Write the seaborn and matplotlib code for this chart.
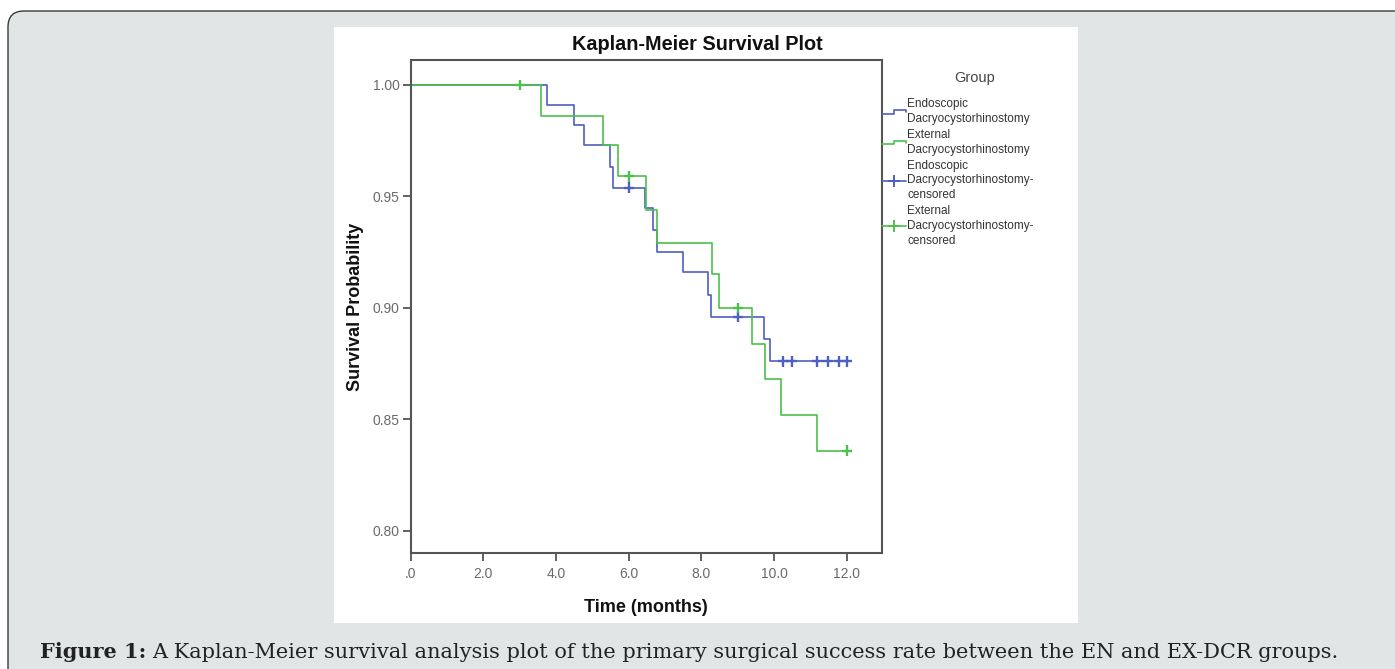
import numpy as np
import pandas as pd
import matplotlib
matplotlib.use("Agg")
import matplotlib.pyplot as plt
import seaborn as sns
from matplotlib.lines import Line2D
from matplotlib.legend_handler import HandlerBase
from matplotlib.patches import FancyBboxPatch, Rectangle
from matplotlib.transforms import IdentityTransform

# ---------------- data ----------------
group_names = ["Endoscopic Dacryocystorhinostomy", "External Dacryocystorhinostomy"]

en_time = [0.0, 3.74, 4.48, 4.77, 5.49, 5.58, 6.45, 6.68, 6.77, 7.49, 8.19, 8.27, 9.71, 9.89, 12.0]
en_surv = [1.000, 0.991, 0.982, 0.973, 0.963, 0.954, 0.945, 0.935, 0.925, 0.916, 0.906, 0.896, 0.886, 0.876, 0.876]
en_cens_time = [6.0, 9.0, 10.25, 10.48, 11.19, 11.49, 11.79, 12.0]
en_cens_surv = [0.954, 0.896, 0.876, 0.876, 0.876, 0.876, 0.876, 0.876]

ex_time = [0.0, 3.58, 5.28, 5.71, 6.47, 6.77, 8.28, 8.49, 9.39, 9.75, 10.19, 11.19, 12.0]
ex_surv = [1.000, 0.986, 0.973, 0.959, 0.944, 0.929, 0.915, 0.900, 0.884, 0.868, 0.852, 0.836, 0.836]
ex_cens_time = [3.0, 6.0, 9.0, 12.0]
ex_cens_surv = [1.000, 0.959, 0.900, 0.836]

x_ticks = [0, 2, 4, 6, 8, 10, 12]
x_tick_labels = [".0", "2.0", "4.0", "6.0", "8.0", "10.0", "12.0"]
y_ticks = [0.80, 0.85, 0.90, 0.95, 1.00]
y_tick_labels = ["0.80", "0.85", "0.90", "0.95", "1.00"]

legend_labels = [
    "Endoscopic\nDacryocystorhinostomy",
    "External\nDacryocystorhinostomy",
    "Endoscopic\nDacryocystorhinostomy-\ncensored",
    "External\nDacryocystorhinostomy-\ncensored",
]

col_en = "#4d5fc0"
col_ex = "#4cc04c"

# ---------------- frames ----------------
lines_df = pd.concat([
    pd.DataFrame({"time": en_time, "surv": en_surv, "group": group_names[0]}),
    pd.DataFrame({"time": ex_time, "surv": ex_surv, "group": group_names[1]}),
], ignore_index=True)
cens_df = pd.concat([
    pd.DataFrame({"time": en_cens_time, "surv": en_cens_surv, "group": group_names[0]}),
    pd.DataFrame({"time": ex_cens_time, "surv": ex_cens_surv, "group": group_names[1]}),
], ignore_index=True)
palette = {group_names[0]: col_en, group_names[1]: col_ex}

sns.set_theme(style="ticks")
plt.rcParams["font.family"] = ["Liberation Sans", "DejaVu Sans"]

W, H = 1395, 669
fig = plt.figure(figsize=(W / 100, H / 100), dpi=100)
fig.patch.set_facecolor("white")

# grey rounded card and white chart panel (pixel coordinates)
card = FancyBboxPatch((8, -40), 1460, H - 11 + 40,
                      boxstyle="round,pad=0,rounding_size=16",
                      transform=IdentityTransform(), facecolor="#e1e5e6",
                      edgecolor="#3a3a3a", linewidth=1.0, zorder=-3)
fig.add_artist(card)
panel = Rectangle((334, H - 623), 1078 - 334, 623 - 27, transform=IdentityTransform(),
                  facecolor="white", edgecolor="none", zorder=-2)
fig.add_artist(panel)

ax = fig.add_axes([410.7 / W, 1 - 553.3 / H, (881.7 - 410.7) / W, (553.3 - 60) / H])
ax.set_facecolor("white")

sns.lineplot(data=lines_df, x="time", y="surv", hue="group", palette=palette,
             estimator=None, sort=False, drawstyle="steps-post", linewidth=1.2,
             legend=False, ax=ax)
sns.scatterplot(data=cens_df, x="time", y="surv", hue="group", palette=palette,
                marker="+", s=55, linewidth=1.7, legend=False, ax=ax, zorder=3)

ax.set_xlim(0, 12.96)
ax.set_ylim(0.7899, 1.0112)
ax.set_xticks(x_ticks)
ax.set_xticklabels(x_tick_labels)
ax.set_yticks(y_ticks)
ax.set_yticklabels(y_tick_labels)
ax.tick_params(axis="both", direction="out", length=6, width=1.3, color="#555555",
               labelsize=10, labelcolor="#6a6a6a")
ax.tick_params(axis="x", pad=4)
ax.tick_params(axis="y", pad=2)
for sp in ax.spines.values():
    sp.set_visible(True)
    sp.set_color("#555555")
    sp.set_linewidth(1.5)

ax.set_xlabel("Time (months)", fontsize=13, fontweight="bold", color="#111111", labelpad=13)
ax.set_ylabel("Survival Probability", fontsize=13, fontweight="bold", color="#111111", labelpad=6)
fig.text(697 / W, 1 - 45 / H, "Kaplan-Meier Survival Plot", ha="center", va="center",
         fontsize=14.3, fontweight="bold", color="#111111")


class StepHandler(HandlerBase):
    def create_artists(self, legend, orig_handle, xdescent, ydescent, width, height,
                       fontsize, trans):
        x0 = -xdescent
        yc = -ydescent + height / 2.0
        a = height * 0.22
        xs = [x0, x0 + 0.5 * width, x0 + 0.5 * width, x0 + width, x0 + width]
        ys = [yc - a, yc - a, yc + a, yc + a, yc - a * 0.3]
        ln = Line2D(xs, ys, color=orig_handle.get_color(), linewidth=1.2)
        ln.set_transform(trans)
        return [ln]


h1 = Line2D([], [], color=col_en)
h2 = Line2D([], [], color=col_ex)
h3 = Line2D([], [], color=col_en, marker="+", markersize=8, markeredgewidth=1.4, linewidth=1.2)
h4 = Line2D([], [], color=col_ex, marker="+", markersize=8, markeredgewidth=1.4, linewidth=1.2)
leg = fig.legend([h1, h2, h3, h4], legend_labels, loc="upper left",
                 bbox_to_anchor=(882 / W, 1 - 98 / H), bbox_transform=fig.transFigure,
                 frameon=False, borderpad=0, borderaxespad=0, fontsize=8.5,
                 handlelength=2.0, handletextpad=0.15, labelspacing=0.35,
                 handler_map={h1: StepHandler(), h2: StepHandler()})
for t in leg.get_texts():
    t.set_color("#333333")
    t.set_linespacing(1.3)
fig.text(975 / W, 1 - 78 / H, "Group", ha="center", va="center", fontsize=10.5, color="#444444")

# caption
renderer = fig.canvas.get_renderer()
cap_y = 1 - 658 / H
t1 = fig.text(40 / W, cap_y, "Figure 1:", fontsize=15, fontweight="bold",
              family=["DejaVu Serif"], color="#222222", va="baseline")
bb = t1.get_window_extent(renderer=renderer)
fig.text((bb.x1 + 6) / W, cap_y,
         "A Kaplan-Meier survival analysis plot of the primary surgical success rate between the EN and EX-DCR groups.",
         fontsize=15, family=["DejaVu Serif"], color="#222222", va="baseline")

fig.savefig("out.png", dpi=100, facecolor="white")
